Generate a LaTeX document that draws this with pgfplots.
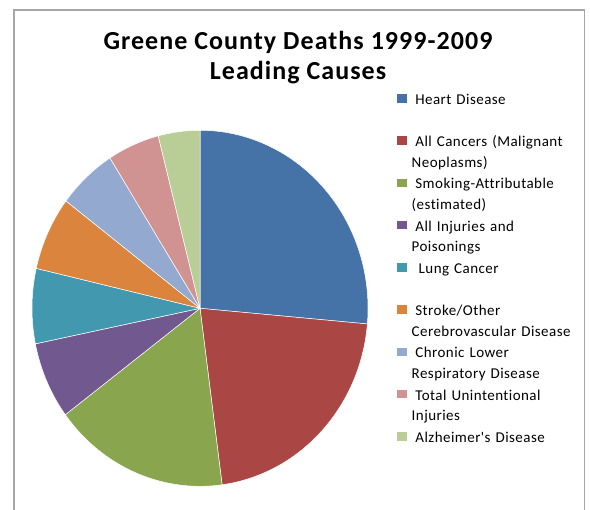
\documentclass[border=0pt]{standalone}
\usepackage{pgfplots}
\pgfplotsset{compat=1.18}
\usepackage{pgfplotstable}
\usepackage{fontspec}
\setmainfont{Carlito}
\newfontfamily\titlefont{Carlito}[LetterSpace=4, Ligatures={NoCommon}]
\newfontfamily\legfont{Carlito}[LetterSpace=3, Ligatures={NoCommon}]
\definecolor{slice0}{HTML}{4572A7}
\definecolor{slice1}{HTML}{AA4643}
\definecolor{slice2}{HTML}{89A54E}
\definecolor{slice3}{HTML}{71588F}
\definecolor{slice4}{HTML}{4198AF}
\definecolor{slice5}{HTML}{DB843D}
\definecolor{slice6}{HTML}{93A9CF}
\definecolor{slice7}{HTML}{D19392}
\definecolor{slice8}{HTML}{B9CD96}

% share of deaths (percent), clockwise from 12 o'clock
\pgfplotstableread{
idx value
0 26.4
1 21.5
2 16.9
3 7.0
4 6.8
5 6.7
6 5.7
7 5.0
8 4.0
}\piedata

\begin{document}
\begin{tikzpicture}[x=1bp,y=1bp]
\draw[color=black!35, line width=1.3bp] (14,0) -- (14,500) -- (584.3,500) -- (584.3,0);
\node[font=\titlefont\bfseries\fontsize{26bp}{29.3bp}\selectfont, anchor=base] at (298,460) {Greene County Deaths 1999-2009};
\node[font=\titlefont\bfseries\fontsize{26bp}{29.3bp}\selectfont, anchor=base] at (298,430.7) {Leading Causes};
\begin{axis}[
  at={(32bp,23.7bp)}, anchor=south west,
  scale only axis, width=336bp, height=356bp,
  xmin=-1, xmax=1, ymin=-1, ymax=1,
  hide axis, clip=false,
  legend entries={
    {\hspace*{3.7bp}Heart Disease},
    {\hspace*{3.7bp}All Cancers (Malignant\\Neoplasms)},
    {\hspace*{3.7bp}Smoking-Attributable\\(estimated)},
    {\hspace*{3.7bp}All Injuries and\\Poisonings},
    {\hspace*{7bp}Lung Cancer},
    {\hspace*{3.7bp}Stroke/Other\\Cerebrovascular Disease},
    {\hspace*{3.7bp}Chronic Lower\\Respiratory Disease},
    {\hspace*{3.7bp}Total Unintentional\\Injuries},
    {\hspace*{3.7bp}Alzheimer's Disease}},
  legend image code/.code={\fill[#1, draw=none] (0bp,1.6bp) rectangle (9.3bp,10.3bp);},
  legend style={at={(1.0872,1.1039)}, anchor=north west, draw=none, fill=none,
    inner sep=0pt, outer sep=0pt, row sep=0pt, column sep=5.1bp,
    cells={anchor=base west},
    nodes={inner sep=0pt, outer sep=0pt, text width=170bp, align=left,
      text height=11bp, text depth=31.25bp,
      font=\legfont\fontsize{15bp}{20.5bp}\selectfont}},
]
\def\cum{0}
\pgfplotsforeachungrouped \i in {0,...,8}{%
  \pgfplotstablegetelem{\i}{value}\of\piedata
  \let\v=\pgfplotsretval
  \pgfmathsetmacro\angA{90-3.6*\cum}%
  \pgfmathsetmacro\cum{\cum+\v}%
  \pgfmathsetmacro\angB{90-3.6*\cum}%
  \edef\cmd{\noexpand\addplot[fill=slice\i, draw=white, line width=0.5bp, domain=\angB:\angA, samples=90] ({cos(x)},{sin(x)}) -- (axis cs:0,0) -- cycle;}%
  \cmd
}
\end{axis}
\pgfresetboundingbox
\path[use as bounding box] (0,0) rectangle (590,510);
\end{tikzpicture}
\end{document}
